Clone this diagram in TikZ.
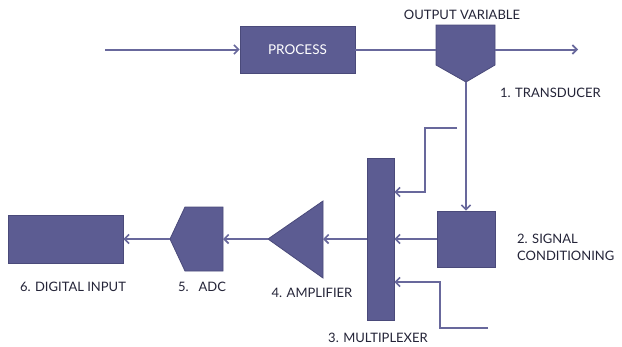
\documentclass[tikz,border=0pt]{standalone}
\usepackage{fontspec}
\setmainfont{Lato}
\usetikzlibrary{arrows.meta}
\definecolor{boxfill}{RGB}{92,92,146}
\definecolor{boxedge}{RGB}{74,74,122}
\definecolor{linecol}{RGB}{104,104,156}
\definecolor{labelcol}{RGB}{36,36,56}
\begin{document}
\begin{tikzpicture}[x=1pt,y=-1pt,
  blk/.style={draw=boxedge,fill=boxfill,line width=0.8pt,inner sep=0pt},
  shp/.style={draw=boxedge,fill=boxfill,line width=0.8pt},
  conn/.style={draw=linecol,line width=2pt},
  arr/.style={conn,-{Straight Barb[length=4.5pt,width=9pt,line width=1.6pt]}},
  lbl/.style={text=labelcol,font=\fontsize{13}{17}\selectfont,inner sep=0pt}]
\useasboundingbox[fill=white] (0,0) rectangle (622,346);
% blocks
\node[blk,minimum width=115pt,minimum height=47pt,text=white,font=\fontsize{13.5}{15}\selectfont] (process) at (297.5,49.5) {PROCESS};
\node[blk,minimum width=58pt,minimum height=56pt] (sigcond) at (466.5,239) {};
\node[blk,minimum width=27pt,minimum height=162pt] (mux) at (380.5,239) {};
\node[blk,minimum width=115pt,minimum height=48pt] (digital) at (65.5,239) {};
% transducer
\path[shp] (436,25) coordinate (tdtl) -- (495,25) -- (495,65) -- (466,82) coordinate (tdtip) -- (436,65) -- cycle;
\coordinate (tdL) at (436,49.5);
\coordinate (tdR) at (495,49.5);
% ADC
\path[shp] (170,239) coordinate (adcL) -- (185,207) -- (223,207) -- (223,271) -- (185,271) -- cycle;
\coordinate (adcR) at (223,239);
% amplifier
\path[shp] (268,239) coordinate (ampL) -- (323,201) -- (323,278) -- cycle;
\coordinate (ampR) at (323,239);
% free ends
\coordinate (in) at (105,49.5);
\coordinate (out) at (578,49.5);
\coordinate (topin) at (457,128);
\coordinate (botin) at (488,328);
% connectors
\draw[arr] (in) -- (process.west);
\draw[conn] (process.east) -- (tdL);
\draw[arr] (tdR) -- (out);
\draw[arr] (tdtip) -- (tdtip |- sigcond.north);
\draw[arr] (topin) -- (425,128) -- (425,192) -- (mux.east |- 0,192);
\draw[arr] (sigcond.west) -- (mux.east);
\draw[arr] (botin) -- (440,328) -- (440,282) -- (mux.east |- 0,282);
\draw[arr] (mux.west) -- (ampR);
\draw[arr] (ampL) -- (adcR);
\draw[arr] (adcL) -- (digital.east);
% labels
\node[lbl] (lov) at (462,15) {OUTPUT VARIABLE};
\node[lbl,anchor=west] (ltd) at (500,93) {1. TRANSDUCER};
\node[lbl,anchor=west,align=left] (lsc) at (517,247) {2. SIGNAL\\CONDITIONING};
\node[lbl] (lmux) at (378,338) {3. MULTIPLEXER};
\node[lbl] (lamp) at (312,293) {4. AMPLIFIER};
\node[lbl] (ladc) at (202,287) {5.\ \ \ ADC};
\node[lbl] (ldig) at (73,287) {6. DIGITAL INPUT};
\end{tikzpicture}
\end{document}
